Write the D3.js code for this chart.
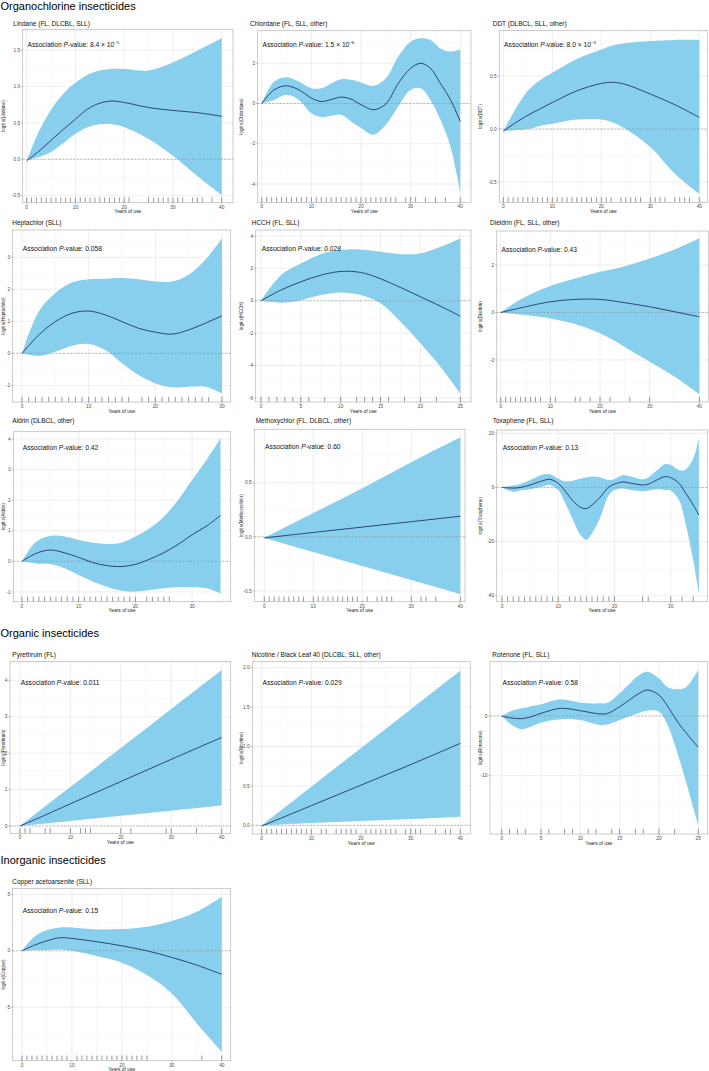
<!DOCTYPE html>
<html><head><meta charset="utf-8">
<script src="https://cdn.jsdelivr.net/npm/d3@7"></script>
<style>
body{margin:0;background:#fff}
svg{display:block}
text{font-family:"Liberation Sans",Arial,Helvetica,sans-serif}
</style>
</head><body>
<svg id="c" width="709" height="1071"></svg>
<script>
// ---------------- DATA ----------------
const sectionTitles = ["Organochlorine insecticides", "Organic insecticides", "Inorganic insecticides"];

const panelTitles = [
  "Lindane (FL, DLCBL, SLL)", "Chlordane (FL, SLL, other)", "DDT (DLBCL, SLL, other)",
  "Heptachlor (SLL)", "HCCH (FL, SLL)", "Dieldrin (FL, SLL, other)",
  "Aldrin (DLBCL, other)", "Methoxychlor (FL, DLBCL, other)", "Toxaphene (FL, SLL)",
  "Pyrethrum (FL)", "Nicotine / Black Leaf 40 (DLCBL, SLL, other)", "Rotenone (FL, SLL)",
  "Copper acetoarsenite (SLL)"
];
const yTitles = [
  "logit s(Lindane)", "logit s(Chlordane)", "logit s(DDT)",
  "logit s(Heptachlor)", "logit s(HCCH)", "logit s(Dieldrin)",
  "logit s(Aldrin)", "logit s(Methoxychlor)", "logit s(Toxaphene)",
  "logit s(Pyrethrum)", "logit s(Nicotine)", "logit s(Rotenone)",
  "logit s(Copper)"
];
// P-values: [mantissa, exponent or null]
const pValues = [
  ["8.4", "−5"], ["1.5", "−6"], ["8.0", "−3"],
  ["0.058", null], ["0.028", null], ["0.43", null],
  ["0.42", null], ["0.60", null], ["0.13", null],
  ["0.011", null], ["0.029", null], ["0.58", null],
  ["0.15", null]
];

const xTicks40 = [0, 10, 20, 30, 40];
const xTicks30 = [0, 10, 20, 30];
const xTicks25 = [0, 5, 10, 15, 20, 25];

// Lindane
const lindaneYears = [0, 2.5, 5, 7.5, 10, 12.5, 15, 17.5, 20, 25, 30, 35, 40];
const lindaneFit   = [-0.02, 0.11, 0.26, 0.41, 0.55, 0.69, 0.77, 0.80, 0.78, 0.71, 0.67, 0.64, 0.59];
const lindaneUpper = [-0.02, 0.38, 0.68, 0.90, 1.05, 1.16, 1.22, 1.24, 1.24, 1.22, 1.33, 1.49, 1.66];
const lindaneLower = [-0.02, 0.03, 0.10, 0.22, 0.35, 0.44, 0.48, 0.48, 0.44, 0.28, 0.05, -0.23, -0.49];
const lindaneRug   = [0,1,2,3,4,5,6,7,8,9,10,11,12,13,14,15,16,17,18,19,20,21,25,26,27,28,29,30,31,32,34,35,36,38,40];
const lindaneYTicks = [-0.5, 0, 0.5, 1, 1.5];

// Chlordane
const chlordaneYears = [0, 2.5, 5, 7.5, 10, 12, 14, 16, 18, 20, 22.5, 25, 27.5, 30, 32, 34, 36, 38, 40];
const chlordaneFit   = [0, 0.68, 0.88, 0.68, 0.27, 0.10, 0.20, 0.32, 0.22, -0.06, -0.31, -0.02, 1.0, 1.75, 2.0, 1.75, 1.0, 0.2, -0.89];
const chlordaneUpper = [0, 1.09, 1.31, 1.09, 0.76, 0.76, 1.0, 1.21, 1.18, 1.04, 0.88, 1.26, 2.33, 3.07, 3.24, 3.16, 2.74, 2.58, 2.70];
const chlordaneLower = [0, 0.18, 0.43, 0.18, -0.48, -0.67, -0.61, -0.56, -0.89, -1.22, -1.55, -1.06, -0.15, 0.68, 0.76, 0.18, -0.81, -2.13, -4.44];
const chlordaneRug   = [0,1,2,3,4,5,6,7,8,9,10,11,12,13,14,15,16,17,18,19,20,21,22,23,24,25,26,27,29,30,31,33,35,37,40];
const chlordaneYTicks = [-4, -2, 0, 2];

// DDT
const ddtYears = [0, 2.5, 5, 7.5, 10, 15, 20, 22.5, 25, 30, 35, 40];
const ddtFit   = [-0.02, 0.06, 0.13, 0.19, 0.25, 0.36, 0.43, 0.44, 0.42, 0.33, 0.23, 0.11];
const ddtUpper = [-0.02, 0.19, 0.36, 0.46, 0.53, 0.66, 0.75, 0.79, 0.81, 0.83, 0.84, 0.84];
const ddtLower = [-0.02, -0.01, 0.0, 0.03, 0.05, 0.09, 0.09, 0.06, 0.0, -0.17, -0.42, -0.61];
const ddtRug   = [0,1,2,3,4,5,6,7,8,9,10,11,12,13,14,15,16,17,18,19,20,21,22,24,25,26,27,28,30,31,32,33,35,36,37,38,40];
const ddtYTicks = [-0.5, 0, 0.5];

// Heptachlor
const heptachlorYears = [0, 2.5, 5, 7.5, 10, 12.5, 15, 17.5, 20, 22.5, 25, 27.5, 30];
const heptachlorFit   = [0, 0.57, 0.99, 1.25, 1.32, 1.20, 0.99, 0.78, 0.66, 0.60, 0.73, 0.94, 1.17];
const heptachlorUpper = [0, 1.30, 1.88, 2.21, 2.31, 2.33, 2.35, 2.31, 2.24, 2.24, 2.45, 2.92, 3.59];
const heptachlorLower = [0, -0.08, 0.05, 0.24, 0.29, 0.10, -0.31, -0.68, -0.94, -1.06, -1.04, -1.04, -1.25];
const heptachlorRug   = [0,1,2,3,4,5,6,7,8,9,10,11,12,13,14,15,16,18,19,20,21,22,23,24,25,26,27,28,30];
const heptachlorYTicks = [-1, 0, 1, 2, 3];

// HCCH
const hcchYears = [0, 2.5, 5, 7.5, 10, 12.5, 15, 17.5, 20, 22.5, 25];
const hcchFit   = [0, 0.66, 1.17, 1.58, 1.81, 1.75, 1.36, 0.82, 0.25, -0.33, -0.95];
const hcchUpper = [0, 1.58, 2.30, 2.88, 3.13, 3.17, 3.02, 2.88, 2.92, 3.33, 3.85];
const hcchLower = [0, -0.12, 0.04, 0.35, 0.51, 0.35, -0.16, -1.30, -2.63, -4.07, -5.72];
const hcchRug   = [0,1,2,3,4,5,6,8,10,12,13,14,15,16,18,20,22,25];
const hcchYTicks = [-6, -4, -2, 0, 2, 4];

// Dieldrin
const dieldrinYears = [0, 2.5, 5, 10, 15, 20, 25, 30, 35, 40];
const dieldrinFit   = [0, 0.12, 0.24, 0.45, 0.55, 0.55, 0.41, 0.24, 0.03, -0.18];
const dieldrinUpper = [0, 0.36, 0.66, 1.11, 1.43, 1.71, 1.95, 2.27, 2.65, 3.12];
const dieldrinLower = [0, -0.06, -0.11, -0.25, -0.49, -0.88, -1.45, -2.08, -2.71, -3.44];
const dieldrinRug   = [0,1,2,3,4,5,6,7,8,10,11,15,16,18,20,22,26,30,40];
const dieldrinYTicks = [-2, 0, 2];

// Aldrin
const aldrinYears = [0, 2.5, 5, 7.5, 10, 12.5, 15, 17.5, 20, 22.5, 25, 27.5, 30, 32.5, 35];
const aldrinFit   = [0, 0.26, 0.37, 0.28, 0.13, -0.04, -0.14, -0.17, -0.10, 0.07, 0.28, 0.55, 0.87, 1.15, 1.50];
const aldrinUpper = [0, 0.64, 0.83, 0.81, 0.70, 0.61, 0.57, 0.61, 0.81, 1.08, 1.46, 2.00, 2.66, 3.31, 4.02];
const aldrinLower = [0, -0.07, -0.09, -0.23, -0.45, -0.66, -0.83, -0.96, -0.99, -0.94, -0.88, -0.85, -0.85, -0.88, -1.05];
const aldrinRug   = [0,1,2,3,4,5,6,7,8,9,10,11,12,13,14,15,16,17,18,19,20,22,23,24,25,26];
const aldrinYTicks = [-1, 0, 1, 2, 3, 4];

// Methoxychlor
const methoxychlorYears = [0, 10, 20, 30, 40];
const methoxychlorFit   = [-0.01, 0.04, 0.09, 0.14, 0.19];
const methoxychlorUpper = [-0.01, 0.22, 0.45, 0.69, 0.92];
const methoxychlorLower = [-0.01, -0.14, -0.27, -0.40, -0.53];
const methoxychlorRug   = [0,1,2,3,4,5,6,7,8,10,11,12,13,14,15,16,17,18,19,21,23,24,25,26,30,32,33,35,40];
const methoxychlorYTicks = [-0.5, 0, 0.5];

// Toxaphene
const toxapheneYears = [0, 2, 3, 5, 7, 8.5, 10, 11, 12.5, 14, 15, 16, 17.5, 19, 20, 21.5, 23, 25, 26, 27.5, 29, 30, 31.5, 32.5, 34, 35];
const toxapheneFit   = [0, -0.25, -0.1, 0.9, 2.3, 3.0, 1.5, -0.7, -4.7, -7.4, -7.8, -6.5, -3.5, 0.2, 1.2, 2.0, 1.5, 0.9, 1.2, 2.7, 4.0, 3.6, 1.5, -1.6, -6.5, -10.2];
const toxapheneUpper = [0, 0.7, 1.1, 2.7, 4.6, 4.9, 3.3, 2.3, 2.5, 3.3, 3.7, 4.0, 3.7, 2.7, 3.1, 4.6, 4.0, 3.0, 3.7, 6.2, 8.6, 8.3, 6.4, 6.4, 10.7, 18.1];
const toxapheneLower = [0, -1.6, -1.2, -0.7, 0.2, 0.9, -1.0, -4.7, -11.5, -17.7, -19.3, -17.0, -10.9, -2.8, -1.0, -0.4, -1.0, -1.4, -1.2, -0.7, -1.0, -1.2, -4.7, -12.1, -26.9, -39.3];
const toxapheneRug   = [0,1,2,3,4,5,6,7,8,9,10,12,13,14,15,16,17,18,19,20,25,26,30,32,34];
const toxapheneYTicks = [-40, -20, 0, 20];

// Pyrethrum
const pyrethrumYears = [0, 5, 10, 20, 30, 40];
const pyrethrumFit   = [0, 0.30, 0.61, 1.22, 1.83, 2.43];
const pyrethrumUpper = [0, 0.54, 1.07, 2.14, 3.21, 4.28];
const pyrethrumLower = [0, 0.07, 0.14, 0.28, 0.42, 0.56];
const pyrethrumRug   = [0,1,2,5,6,10,12,13,14,20,22,29,30,35,40];
const pyrethrumYTicks = [0, 1, 2, 3, 4];

// Nicotine
const nicotineYears = [0, 10, 20, 30, 40];
const nicotineFit   = [-0.01, 0.25, 0.51, 0.77, 1.04];
const nicotineUpper = [0, 0.49, 0.98, 1.47, 1.96];
const nicotineLower = [0, 0.03, 0.055, 0.08, 0.11];
const nicotineRug   = [0,1,2,3,4,5,6,7,8,9,10,12,13,15,16,17,18,19,21,22,23,24,25,26,27,29,30,31,32,35,37,38,40];
const nicotineYTicks = [0, 0.5, 1, 1.5, 2];

// Rotenone
const rotenoneYears = [0, 1, 2.5, 3.5, 5, 7.5, 10, 12.5, 13.5, 15, 17.5, 18.5, 20, 21, 22.5, 23.5, 25];
const rotenoneFit   = [0, -0.28, -0.45, -0.22, 0.45, 1.28, 0.89, 0.34, 0.45, 1.56, 3.8, 4.36, 3.52, 1.84, -1.23, -2.9, -5.25];
const rotenoneUpper = [0, 0.73, 1.28, 1.56, 1.96, 2.79, 2.23, 2.12, 2.23, 3.8, 6.87, 7.43, 6.31, 4.92, 4.47, 4.92, 7.71];
const rotenoneLower = [0, -1.23, -2.23, -1.90, -1.12, -0.56, -0.67, -1.51, -1.40, -0.67, 0.56, 0.89, 0.73, -1.23, -6.82, -11.3, -18.3];
const rotenoneRug   = [0,1,2,3,5,6,8,9,11,12,14,15,17,18,20,22,25];
const rotenoneYTicks = [-10, 0];

// Copper acetoarsenite
const copperYears = [0, 2.5, 5, 7.5, 10, 15, 20, 25, 30, 35, 40];
const copperFit   = [0, 0.50, 0.88, 1.15, 1.09, 0.80, 0.44, 0.0, -0.59, -1.27, -2.09];
const copperUpper = [0, 1.24, 1.83, 2.06, 2.06, 1.89, 1.92, 2.12, 2.63, 3.45, 4.78];
const copperLower = [0, 0.06, 0.06, 0.12, 0.0, -0.47, -1.06, -2.15, -3.78, -6.43, -8.94];
const copperRug   = [0,1,2,3,4,5,6,7,8,9,11,12,13,14,15,16,17,18,19,20,21,22,23,24,25,36,40];
const copperYTicks = [-5, 0, 5];

// ---------------- LAYOUT (pixels / domains) ----------------
const sectionY = [9.8, 636.5, 864];
const layout = [
  {box:[22.7,233,29.3,202.7],   xd:[-0.82,42.32], yd:[-0.596,1.784], tx:13.3,  ty:25.6,  ay:44.3,  col:0, xt:xTicks40, dec:1},
  {box:[257.7,471,30.7,202.3],  xd:[-0.81,42.16], yd:[-4.91,3.62],   tx:250,   ty:25.6,  ay:44.3,  col:1, xt:xTicks40, dec:0},
  {box:[499.3,707.3,30.7,202.3],xd:[-0.82,41.63], yd:[-0.69,0.927],  tx:492.7, ty:25.6,  ay:44.3,  col:2, xt:xTicks40, dec:1},
  {box:[12.7,230.7,230,402],    xd:[-1.40,31.31], yd:[-1.52,3.85],   tx:12.3,  ty:225,   ay:248.3, col:0, xt:xTicks30, dec:0},
  {box:[255.7,471,230,402],     xd:[-0.66,26.34], yd:[-6.25,4.37],   tx:251.7, ty:225,   ay:249,   col:1, xt:xTicks25, dec:0},
  {box:[496.7,708.3,231,402],   xd:[-0.81,41.8],  yd:[-3.77,3.43],   tx:490,   ty:225,   ay:249.3, col:2, xt:xTicks40, dec:0},
  {box:[13.3,230.7,431.7,601.7],xd:[-1.52,36.8],  yd:[-1.32,4.24],   tx:12.3,  ty:423,   ay:447.3, col:0, xt:xTicks30, dec:0},
  {box:[254.3,465,429.3,601.7], xd:[-2.04,40.96], yd:[-0.60,0.994],  tx:255.7, ty:423,   ay:446.7, col:1, xt:xTicks40, dec:1},
  {box:[496.7,707.3,430,601.7], xd:[-0.94,36.5],  yd:[-42.2,21.2],   tx:492.7, ty:423,   ay:447.3, col:2, xt:xTicks30, dec:0},
  {box:[10,230.7,661.7,833.3],  xd:[-1.98,41.79], yd:[-0.2,4.51],    tx:12.3,  ty:656.6, ay:682.3, col:0, xt:xTicks40, dec:0},
  {box:[252.3,470.3,661.7,834], xd:[-1.89,42.01], yd:[-0.11,2.076],  tx:251.7, ty:656.6, ay:682.7, col:1, xt:xTicks40, dec:1},
  {box:[490,707.7,661.7,834],   xd:[-1.49,26.2],  yd:[-19.77,9.1],   tx:492.3, ty:656.6, ay:682.7, col:2, xt:xTicks25, dec:0},
  {box:[12.7,230.7,888.3,1060.7],xd:[-1.86,41.78],yd:[-9.73,5.53],   tx:12.3,  ty:884,   ay:910.7, col:0, xt:xTicks40, dec:0}
];
const yTitleX = [3.2, 241.2, 480.2];

// table built from the arrays
const series = [
  [lindaneYears, lindaneFit, lindaneUpper, lindaneLower, lindaneRug, lindaneYTicks],
  [chlordaneYears, chlordaneFit, chlordaneUpper, chlordaneLower, chlordaneRug, chlordaneYTicks],
  [ddtYears, ddtFit, ddtUpper, ddtLower, ddtRug, ddtYTicks],
  [heptachlorYears, heptachlorFit, heptachlorUpper, heptachlorLower, heptachlorRug, heptachlorYTicks],
  [hcchYears, hcchFit, hcchUpper, hcchLower, hcchRug, hcchYTicks],
  [dieldrinYears, dieldrinFit, dieldrinUpper, dieldrinLower, dieldrinRug, dieldrinYTicks],
  [aldrinYears, aldrinFit, aldrinUpper, aldrinLower, aldrinRug, aldrinYTicks],
  [methoxychlorYears, methoxychlorFit, methoxychlorUpper, methoxychlorLower, methoxychlorRug, methoxychlorYTicks],
  [toxapheneYears, toxapheneFit, toxapheneUpper, toxapheneLower, toxapheneRug, toxapheneYTicks],
  [pyrethrumYears, pyrethrumFit, pyrethrumUpper, pyrethrumLower, pyrethrumRug, pyrethrumYTicks],
  [nicotineYears, nicotineFit, nicotineUpper, nicotineLower, nicotineRug, nicotineYTicks],
  [rotenoneYears, rotenoneFit, rotenoneUpper, rotenoneLower, rotenoneRug, rotenoneYTicks],
  [copperYears, copperFit, copperUpper, copperLower, copperRug, copperYTicks]
];

// ---------------- DRAW ----------------
const svg = d3.select("#c");
svg.append("rect").attr("width", 709).attr("height", 1071).attr("fill", "#fff");

sectionTitles.forEach((s, i) => {
  svg.append("text").attr("x", 0.5).attr("y", sectionY[i])
    .attr("font-size", 11).attr("fill", "#000").text(s);
});

const BAND = "#87cfed", LINE = "#1b2a63", BORDER = "#b5b5b5";
const MAJOR = "#e2e2e2", MINOR = "#efefef", TICKTXT = "#4d4d4d";

function minorOf(ticks, dom) {
  const step = ticks[1] - ticks[0];
  const vals = [ticks[0] - step / 2].concat(ticks.map(v => v + step / 2));
  return vals.filter(v => v > dom[0] && v < dom[1]);
}

series.forEach((s, i) => {
  const [years, fit, upper, lower, rug, yTicks] = s;
  const L = layout[i];
  const [l, r, t, b] = L.box;
  const x = d3.scaleLinear().domain(L.xd).range([l, r]);
  const y = d3.scaleLinear().domain(L.yd).range([b, t]);
  const g = svg.append("g");

  const cid = "clip" + i;
  svg.append("defs").append("clipPath").attr("id", cid)
    .append("rect").attr("x", l).attr("y", t).attr("width", r - l).attr("height", b - t);

  // grid
  const xMinor = minorOf(L.xt, L.xd), yMinor = minorOf(yTicks, L.yd);
  g.selectAll(".xm").data(xMinor).join("line")
    .attr("x1", d => x(d)).attr("x2", d => x(d)).attr("y1", t).attr("y2", b)
    .attr("stroke", MINOR).attr("stroke-width", 0.4);
  g.selectAll(".ym").data(yMinor).join("line")
    .attr("y1", d => y(d)).attr("y2", d => y(d)).attr("x1", l).attr("x2", r)
    .attr("stroke", MINOR).attr("stroke-width", 0.4);
  g.selectAll(".xM").data(L.xt).join("line")
    .attr("x1", d => x(d)).attr("x2", d => x(d)).attr("y1", t).attr("y2", b)
    .attr("stroke", MAJOR).attr("stroke-width", 0.6);
  g.selectAll(".yM").data(yTicks).join("line")
    .attr("y1", d => y(d)).attr("y2", d => y(d)).attr("x1", l).attr("x2", r)
    .attr("stroke", MAJOR).attr("stroke-width", 0.6);

  const pts = years.map((yr, k) => ({x: yr, f: fit[k], u: upper[k], lo: lower[k]}));
  const curve = d3.curveCatmullRom.alpha(0.5);
  const inner = g.append("g").attr("clip-path", `url(#${cid})`);
  inner.append("path").datum(pts)
    .attr("d", d3.area().x(d => x(d.x)).y0(d => y(d.lo)).y1(d => y(d.u)).curve(curve))
    .attr("fill", BAND);
  inner.append("line").attr("x1", l).attr("x2", r).attr("y1", y(0)).attr("y2", y(0))
    .attr("stroke", "#8a8a8a").attr("stroke-width", 0.55).attr("stroke-dasharray", "2,1.6");
  inner.append("path").datum(pts)
    .attr("d", d3.line().x(d => x(d.x)).y(d => y(d.f)).curve(curve))
    .attr("fill", "none").attr("stroke", LINE).attr("stroke-width", 0.85);

  // rug
  const rugLen = 0.03 * (b - t);
  inner.selectAll(".rug").data(rug).join("line")
    .attr("x1", d => x(d)).attr("x2", d => x(d)).attr("y1", b).attr("y2", b - rugLen)
    .attr("stroke", "#333").attr("stroke-width", 0.5);

  // border
  g.append("rect").attr("x", l).attr("y", t).attr("width", r - l).attr("height", b - t)
    .attr("fill", "none").attr("stroke", BORDER).attr("stroke-width", 0.7);

  // axes ticks & labels
  const fmt = L.dec ? d3.format(".1f") : d3.format("d");
  g.selectAll(".yt").data(yTicks).join("line")
    .attr("x1", l - 1.8).attr("x2", l).attr("y1", d => y(d)).attr("y2", d => y(d))
    .attr("stroke", "#666").attr("stroke-width", 0.4);
  g.selectAll(".yl").data(yTicks).join("text")
    .attr("x", l - 2.6).attr("y", d => y(d) + 1.7).attr("text-anchor", "end")
    .attr("font-size", 4.8).attr("fill", TICKTXT).text(d => fmt(d).replace("−", "-"));
  g.selectAll(".xt").data(L.xt).join("line")
    .attr("y1", b).attr("y2", b + 1.8).attr("x1", d => x(d)).attr("x2", d => x(d))
    .attr("stroke", "#666").attr("stroke-width", 0.4);
  g.selectAll(".xl").data(L.xt).join("text")
    .attr("x", d => x(d)).attr("y", b + 5.9).attr("text-anchor", "middle")
    .attr("font-size", 4.8).attr("fill", TICKTXT).text(d => d);
  g.append("text").attr("x", (l + r) / 2).attr("y", b + 10.6).attr("text-anchor", "middle")
    .attr("font-size", 4.9).attr("fill", "#222").text("Years of use");
  g.append("text")
    .attr("transform", `translate(${yTitleX[L.col]},${(t + b) / 2}) rotate(-90)`)
    .attr("dy", "0.35em").attr("text-anchor", "middle")
    .attr("font-size", 4.6).attr("fill", "#222").text(yTitles[i]);

  // panel title
  g.append("text").attr("x", L.tx).attr("y", L.ty).attr("font-size", 6.5).attr("fill", "#111")
    .text(panelTitles[i]);

  // annotation
  const pv = pValues[i];
  const a = g.append("text").attr("x", x(0) + 0.8).attr("y", L.ay + 2.3)
    .attr("font-size", 6.7).attr("fill", "#111");
  a.append("tspan").text("Association ");
  a.append("tspan").attr("font-style", "italic").text("P");
  a.append("tspan").text("-value: " + pv[0] + (pv[1] ? " × 10" : ""));
  if (pv[1]) {
    a.append("tspan").attr("font-size", 4.3).attr("dy", -2.8).text(pv[1]);
  }
});
</script>
</body></html>
